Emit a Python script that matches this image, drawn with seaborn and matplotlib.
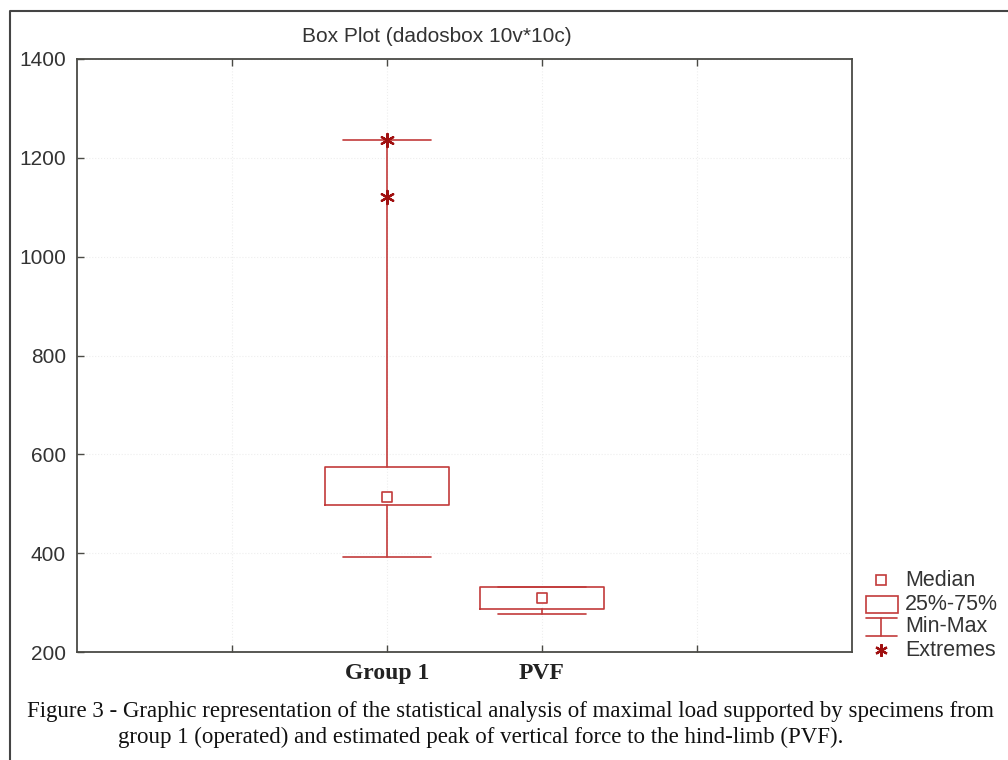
import matplotlib
matplotlib.use("Agg")
import matplotlib.pyplot as plt
import seaborn as sns
import pandas as pd
from matplotlib.lines import Line2D
from matplotlib.patches import Rectangle

# ---- data ----
categories = ["Group 1", "PVF"]
q1 = [497, 287]
median = [513, 309]
q3 = [574, 331]
whisker_min = [392, 277]
whisker_max = [1237, 331]
extremes_cat = ["Group 1", "Group 1"]
extremes_val = [1237, 1120]
yticks = [200, 400, 600, 800, 1000, 1200, 1400]

RED = "#c23b3b"
DARKRED = "#a01010"
AXC = "#4a4a45"

sns.set_theme(style="white")
plt.rcParams["font.family"] = ["Liberation Sans", "DejaVu Sans"]

fig = plt.figure(figsize=(10.08, 7.6), dpi=100)
ax = fig.add_axes([77/1008, 1-652/760, (852-77)/1008, (652-59)/760])

pos = {c: i for i, c in enumerate(categories)}
stats = []
for i, c in enumerate(categories):
    stats.append(dict(label=c, q1=q1[i], med=median[i], q3=q3[i],
                      whislo=whisker_min[i], whishi=whisker_max[i], fliers=[]))
ax.bxp(stats, positions=list(range(len(categories))), widths=0.8,
       showfliers=False, manage_ticks=False,
       boxprops=dict(color=RED, linewidth=1.2),
       whiskerprops=dict(color=RED, linewidth=1.2),
       capprops=dict(color=RED, linewidth=1.2),
       medianprops=dict(linewidth=0, color="none"),
       capwidths=0.57)

med_df = pd.DataFrame({"x": [pos[c] for c in categories], "y": median})
sns.scatterplot(data=med_df, x="x", y="y", marker="s", s=55, facecolor="white",
                edgecolor=RED, linewidth=1.2, ax=ax, zorder=5, legend=False)
ext_df = pd.DataFrame({"x": [pos[c] for c in extremes_cat], "y": extremes_val})
sns.scatterplot(data=ext_df, x="x", y="y", marker=(6, 2, 0), s=90, color=DARKRED,
                linewidth=1.6, ax=ax, zorder=6, legend=False)

ax.set_xlim(-2, 3)
ax.set_ylim(200, 1400)
ax.set_yticks(yticks)
ax.set_yticklabels([str(v) for v in yticks], fontsize=15, color="#333333")
ax.set_xticks([-1, 0, 1, 2])
ax.set_xticklabels(["", "Group 1", "PVF", ""], fontsize=17, fontweight="bold",
                   family=["Liberation Serif"], color="#222222")
ax.set_xlabel("")
ax.set_ylabel("")
ax.tick_params(axis="both", direction="in", length=5, width=1, color=AXC,
               top=True, bottom=True, left=True, right=False)
ax.tick_params(axis="y", pad=8)
ax.tick_params(axis="x", pad=8)
for s in ax.spines.values():
    s.set_color(AXC)
    s.set_linewidth(1.3)
ax.grid(True, color="#eeeeee", linestyle=":", linewidth=0.8)
ax.set_axisbelow(True)

# title
fig.text(437/1008, 1-36/760, "Box Plot (dadosbox 10v*10c)", ha="center", va="center",
         fontsize=15, color="#333333")

# legend (drawn in figure pixels)
W, H = 1008, 760
def fx(x): return x / W
def fy(y): return 1 - y / H
fig.add_artist(Line2D([fx(881)], [fy(580)], marker="s", markersize=7, mfc="white",
                      mec=RED, mew=1.2, ls="none"))
fig.add_artist(Rectangle((fx(866), fy(613)), fx(898) - fx(866), fy(596) - fy(613),
                         fill=False, edgecolor=RED, linewidth=1.2, transform=fig.transFigure))
fig.add_artist(Line2D([fx(866), fx(897)], [fy(618), fy(618)], color=RED, lw=1.2))
fig.add_artist(Line2D([fx(881), fx(881)], [fy(618), fy(636)], color=RED, lw=1.2))
fig.add_artist(Line2D([fx(866), fx(897)], [fy(636), fy(636)], color=RED, lw=1.2))
fig.add_artist(Line2D([fx(881)], [fy(650)], marker=(6, 2, 0), markersize=9,
                      color=DARKRED, mew=1.6, ls="none"))
for lab, yy in [("Median", 580), ("25%-75%", 604), ("Min-Max", 627), ("Extremes", 650)]:
    fig.text(fx(905), fy(yy), lab, ha="left", va="center", fontsize=15.5, color="#333333")

# outer frame
fig.add_artist(Line2D([fx(10), fx(10), fx(1008)], [fy(760), fy(11), fy(11)],
                      color="#444444", lw=1.5))

# caption
fig.text(fx(27), fy(712), "Figure 3 - Graphic representation of the statistical analysis of maximal load supported by specimens from",
         ha="left", va="center", fontsize=16.5, family=["Liberation Serif"], color="#111111")
fig.text(fx(118), fy(737), "group 1 (operated) and estimated peak of vertical force to the hind-limb (PVF).",
         ha="left", va="center", fontsize=16.5, family=["Liberation Serif"], color="#111111")

fig.savefig("out.png", dpi=100)
